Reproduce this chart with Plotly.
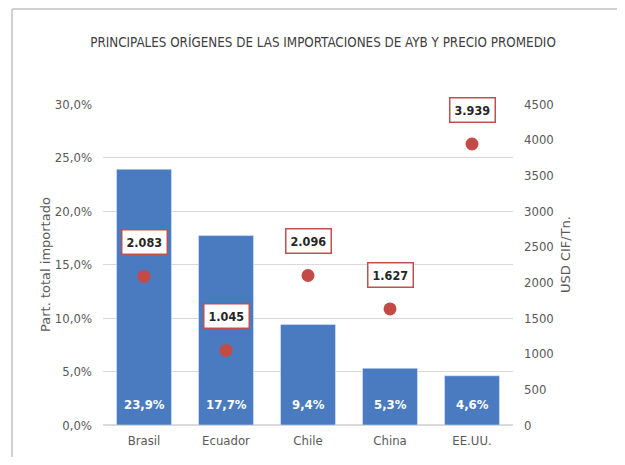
import plotly.graph_objects as go

categories = ["Brasil", "Ecuador", "Chile", "China", "EE.UU."]
share_pct = [23.9, 17.7, 9.4, 5.3, 4.6]
price_usd = [2083, 1045, 2096, 1627, 3939]

title_text = "PRINCIPALES ORÍGENES DE LAS IMPORTACIONES DE AYB Y PRECIO PROMEDIO"
left_title = "Part. total importado"
right_title = "USD CIF/Tn."

NARROW = "DejaVu Sans Condensed, Lato, sans-serif"
GRAY = "#595959"
BAR = "#4A7BC1"
DOT = "#C44B45"

# page has an 8px body margin, so figure is sized/positioned accordingly
OFF = 8
W, H = 625 - 2 * OFF, 465 - 2 * OFF
L, T = 103 - OFF, 104 - OFF
R = W - (513 - OFF)
B = H - (425 - OFF)
pw, ph = W - L - R, H - T - B


def px(x):
    return (x - OFF - L) / pw


def py(y):
    return (H - B - (y - OFF)) / ph


fig = go.Figure()
fig.add_trace(go.Bar(x=categories, y=share_pct, marker_color=BAR, width=0.67,
                     hoverinfo="skip", showlegend=False))
fig.add_trace(go.Scatter(x=categories, y=price_usd, yaxis="y2", mode="markers",
                         marker=dict(color=DOT, size=13), showlegend=False))

annotations = []
for c, s in zip(categories, share_pct):
    annotations.append(dict(x=c, y=0, xref="x", yref="y", yshift=21,
                            text="<b>" + f"{s:.1f}".replace(".", ",") + "%</b>",
                            showarrow=False, font=dict(family=NARROW, size=13, color="white")))
for c, p in zip(categories, price_usd):
    annotations.append(dict(x=c, y=p, xref="x", yref="y2", yshift=34,
                            text="<b>" + f"{p:,}".replace(",", ".") + "</b>",
                            showarrow=False, bgcolor="white", bordercolor="#C0504D",
                            borderwidth=1.5, borderpad=4,
                            font=dict(family=NARROW, size=12.5, color="#262626")))
annotations.append(dict(x=px(45), y=py(265), xref="paper", yref="paper", text=left_title,
                        xanchor="center", yanchor="middle",
                        showarrow=False, textangle=-90,
                        font=dict(family="DejaVu Sans", size=13, color=GRAY)))
annotations.append(dict(x=px(565), y=py(255), xref="paper", yref="paper", text=right_title,
                        xanchor="center", yanchor="middle",
                        showarrow=False, textangle=-90,
                        font=dict(family="DejaVu Sans", size=13, color=GRAY)))

fig.update_layout(
    width=W, height=H,
    margin=dict(l=L, r=R, t=T, b=B, autoexpand=False),
    paper_bgcolor="white", plot_bgcolor="white",
    separators=",.",
    title=dict(text=title_text, x=(323 - OFF) / W, xref="container", xanchor="center",
               y=1 - (42 - OFF) / H, yref="container", yanchor="middle",
               font=dict(family=NARROW, size=13.3, color="#404040")),
    xaxis=dict(showline=False, ticks="", tickfont=dict(family=NARROW, size=13, color=GRAY),
               ticklabelstandoff=6),
    yaxis=dict(range=[0, 30], dtick=5, tickformat=".1f", ticksuffix="%",
               showgrid=True, gridcolor="#D9D9D9", gridwidth=1, zeroline=True,
               zerolinecolor="#D9D9D9", ticks="", ticklabelstandoff=10,
               tickfont=dict(family=NARROW, size=13, color=GRAY)),
    yaxis2=dict(range=[0, 4500], dtick=500, overlaying="y", side="right",
                showgrid=False, zeroline=False, ticks="", ticklabelstandoff=10,
                tickfont=dict(family=NARROW, size=13, color=GRAY)),
    annotations=annotations,
    shapes=[
        dict(type="line", xref="paper", yref="paper", x0=px(12), x1=px(640),
             y0=py(9), y1=py(9), line=dict(color="#D0D0D0", width=2)),
        dict(type="line", xref="paper", yref="paper", x0=px(12), x1=px(12),
             y0=py(9), y1=py(480), line=dict(color="#D0D0D0", width=2)),
    ],
)

fig.write_html("out.html")
